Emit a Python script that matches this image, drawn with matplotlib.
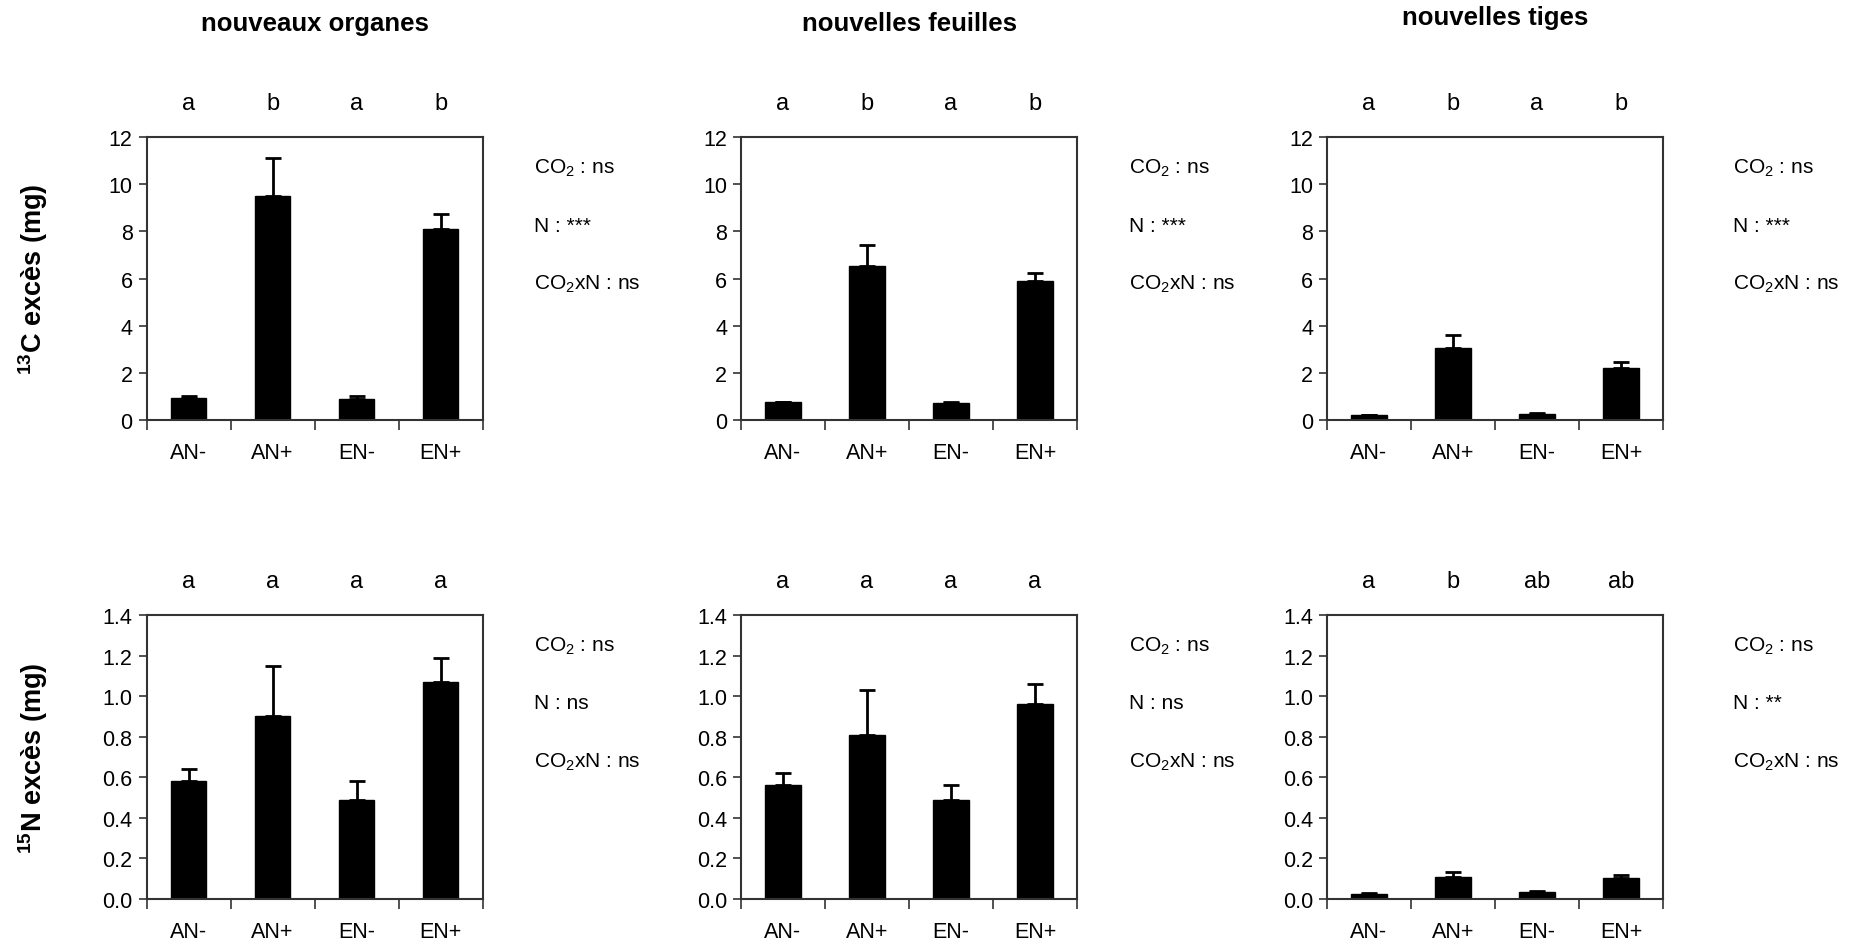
import matplotlib
matplotlib.use("Agg")
import matplotlib.pyplot as plt

plt.rcParams['font.family'] = ['Liberation Sans', 'DejaVu Sans']
plt.rcParams['mathtext.fontset'] = 'custom'
plt.rcParams['mathtext.rm'] = 'Liberation Sans'
plt.rcParams['mathtext.it'] = 'Liberation Sans:italic'
plt.rcParams['mathtext.bf'] = 'Liberation Sans:bold'

categories = ["AN-", "AN+", "EN-", "EN+"]
titles = ["nouveaux organes", "nouvelles feuilles", "nouvelles tiges"]

# 13C excess (mg): means and upper error
c13_organes = [0.95, 9.5, 0.9, 8.1]
c13_organes_err = [0.05, 1.6, 0.1, 0.65]
c13_feuilles = [0.75, 6.55, 0.7, 5.9]
c13_feuilles_err = [0.03, 0.85, 0.05, 0.35]
c13_tiges = [0.2, 3.05, 0.25, 2.2]
c13_tiges_err = [0.02, 0.55, 0.03, 0.25]

# 15N excess (mg)
n15_organes = [0.58, 0.90, 0.49, 1.07]
n15_organes_err = [0.06, 0.25, 0.09, 0.12]
n15_feuilles = [0.56, 0.81, 0.49, 0.96]
n15_feuilles_err = [0.06, 0.22, 0.07, 0.10]
n15_tiges = [0.025, 0.11, 0.035, 0.105]
n15_tiges_err = [0.003, 0.025, 0.005, 0.012]

letters_top = [["a", "b", "a", "b"], ["a", "b", "a", "b"], ["a", "b", "a", "b"]]
letters_bot = [["a", "a", "a", "a"], ["a", "a", "a", "a"], ["a", "b", "ab", "ab"]]

stats_top = [["CO$_2$ : ns", "N : ***", "CO$_2$xN : ns"]] * 3
stats_bot = [["CO$_2$ : ns", "N : ns", "CO$_2$xN : ns"],
             ["CO$_2$ : ns", "N : ns", "CO$_2$xN : ns"],
             ["CO$_2$ : ns", "N : **", "CO$_2$xN : ns"]]

top_vals = [(c13_organes, c13_organes_err), (c13_feuilles, c13_feuilles_err), (c13_tiges, c13_tiges_err)]
bot_vals = [(n15_organes, n15_organes_err), (n15_feuilles, n15_feuilles_err), (n15_tiges, n15_tiges_err)]

top_yticks = [0, 2, 4, 6, 8, 10, 12]
top_ylabels = ["0", "2", "4", "6", "8", "10", "12"]
bot_yticks = [0.0, 0.2, 0.4, 0.6, 0.8, 1.0, 1.2, 1.4]
bot_ylabels = ["0.0", "0.2", "0.4", "0.6", "0.8", "1.0", "1.2", "1.4"]

W, H = 1853, 945
fig = plt.figure(figsize=(W / 100, H / 100), dpi=100)

col_left = [146.5, 741, 1327]
stats_dx = [52, 52, 70]
ax_w = 336
rows = [(138, 421), (616, 900)]

spine_col = "#333333"

def draw(ax, vals, errs, yticks, ylabels, ymax, letters, stats, sdx):
    xs = [i + 0.5 for i in range(len(categories))]
    ax.bar(xs, vals, width=0.42, color="black", edgecolor="black", zorder=2)
    ax.errorbar(xs, vals, yerr=[[0] * len(vals), errs], fmt="none",
                ecolor="black", elinewidth=2, capsize=6, capthick=2, zorder=3)
    ax.set_xlim(0, 4)
    ax.set_ylim(0, ymax)
    ax.set_yticks(yticks)
    ax.set_yticklabels(ylabels, fontsize=15.5)
    ax.set_xticks([0, 1, 2, 3, 4])
    ax.set_xticklabels([])
    ax.set_xticks(xs, minor=True)
    ax.set_xticklabels(categories, minor=True, fontsize=15.5)
    ax.tick_params(axis="x", which="minor", length=0, pad=16)
    ax.tick_params(axis="x", which="major", length=7, direction="out", width=1.2, color=spine_col)
    ax.tick_params(axis="y", length=6, direction="out", width=1.2, color=spine_col, pad=4)
    for s in ax.spines.values():
        s.set_color(spine_col)
        s.set_linewidth(1.5)
    for x, l in zip(xs, letters):
        ax.annotate(l, xy=(x, 1), xycoords=("data", "axes fraction"),
                    xytext=(0, 34), textcoords="offset pixels",
                    ha="center", va="center", fontsize=17)
    for k, t in enumerate(stats):
        ax.annotate(t, xy=(1, 1), xycoords="axes fraction",
                    xytext=(sdx, -(30 + 58 * k)), textcoords="offset pixels",
                    ha="left", va="center", fontsize=15)

for ci in range(3):
    for ri, (ytop, ybot) in enumerate(rows):
        ax = fig.add_axes([col_left[ci] / W, 1 - ybot / H, ax_w / W, (ybot - ytop) / H])
        if ri == 0:
            v, e = top_vals[ci]
            draw(ax, v, e, top_yticks, top_ylabels, 12, letters_top[ci], stats_top[ci], stats_dx[ci])
        else:
            v, e = bot_vals[ci]
            draw(ax, v, e, bot_yticks, bot_ylabels, 1.4, letters_bot[ci], stats_bot[ci], stats_dx[ci])
    cx = (col_left[ci] + ax_w / 2) / W
    ty = 24 if ci < 2 else 18
    fig.text(cx, 1 - ty / H, titles[ci], ha="center", va="center",
             fontsize=18.5, fontweight="bold")

fig.text(33 / W, 1 - (rows[0][0] + rows[0][1]) / 2 / H, r"$\mathbf{^{13}}$C excès (mg)",
         rotation=90, ha="center", va="center", fontsize=19.5, fontweight="bold")
fig.text(33 / W, 1 - (rows[1][0] + rows[1][1]) / 2 / H, r"$\mathbf{^{15}}$N excès (mg)",
         rotation=90, ha="center", va="center", fontsize=19.5, fontweight="bold")

fig.savefig("out.png", dpi=100, facecolor="white")
